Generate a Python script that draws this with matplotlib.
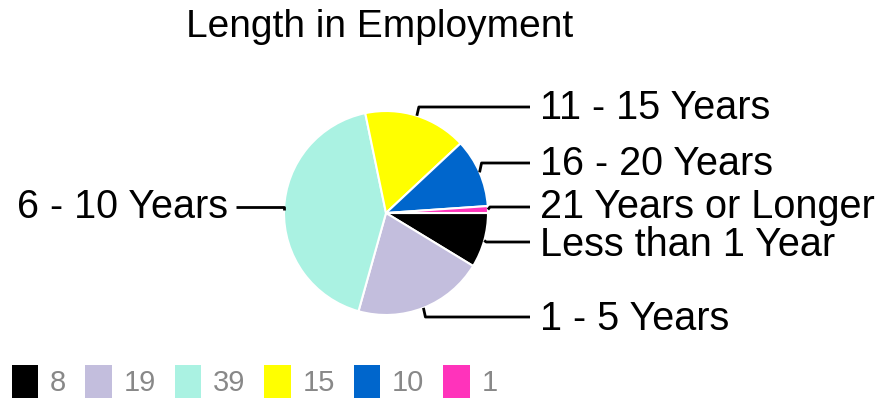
import numpy as np
import matplotlib
matplotlib.use('Agg')
import matplotlib.pyplot as plt
from matplotlib.patches import Patch

# dados
categorias = ['Less than 1 Year', '1 - 5 Years', '6 - 10 Years',
              '11 - 15 Years', '16 - 20 Years', '21 Years or Longer']
valores = [8, 19, 39, 15, 10, 1]
cores = ['#000000', '#c3bedd', '#aaf2e2', '#ffff00', '#0066cc', '#ff33bb']

# posicao dos rotulos (pixels, y para baixo)
rotulo_y = [245, 319, 207, 108, 164, 207]
linha_y = [242, 317, 207, 107, 163, 207]
lado = ['d', 'd', 'e', 'd', 'd', 'd']

plt.rcParams['font.family'] = ['Liberation Sans', 'DejaVu Sans']

fig = plt.figure(figsize=(8.85, 4.04), dpi=100)
ax = fig.add_axes([0, 0, 1, 1])

cx, cy, r = 386, 213, 102
wedges, _ = ax.pie(valores, colors=cores, center=(cx, cy), radius=r,
                   startangle=0, counterclock=True,
                   wedgeprops=dict(edgecolor='white', linewidth=1.5))
ax.set_xlim(0, 885)
ax.set_ylim(404, 0)
ax.set_aspect('auto')
ax.axis('off')

# linhas de chamada
for w, nome, ty, ly, s in zip(wedges, categorias, rotulo_y, linha_y, lado):
    ang = np.deg2rad((w.theta1 + w.theta2) / 2)
    ex = cx + r * np.cos(ang)
    ey = cy + r * np.sin(ang)
    if s == 'd':
        ax.plot([ex, ex + 2, 530], [ey, ly, ly], color='black', lw=2, solid_capstyle='butt')
        ax.text(540, ty, nome, fontsize=28.5, ha='left', va='center')
    else:
        ax.plot([ex, ex, 236], [ey, ly, ly], color='black', lw=2, solid_capstyle='butt')
        ax.text(228, ty, nome, fontsize=28.5, ha='right', va='center')

ax.text(380, 27, 'Length in Employment', fontsize=28, ha='center', va='center')

handles = [Patch(facecolor=c, edgecolor='none') for c in cores]
fig.legend(handles, [str(v) for v in valores], ncol=6, loc='lower left',
           bbox_to_anchor=(12 / 885, 6 / 404), frameon=False,
           borderpad=0, borderaxespad=0,
           prop={'family': ['Liberation Sans Narrow', 'Liberation Sans'], 'size': 21},
           labelcolor='#888888', handlelength=0.9, handleheight=1.36,
           handletextpad=0.4, columnspacing=0.66)

plt.savefig('out.png', dpi=100)
